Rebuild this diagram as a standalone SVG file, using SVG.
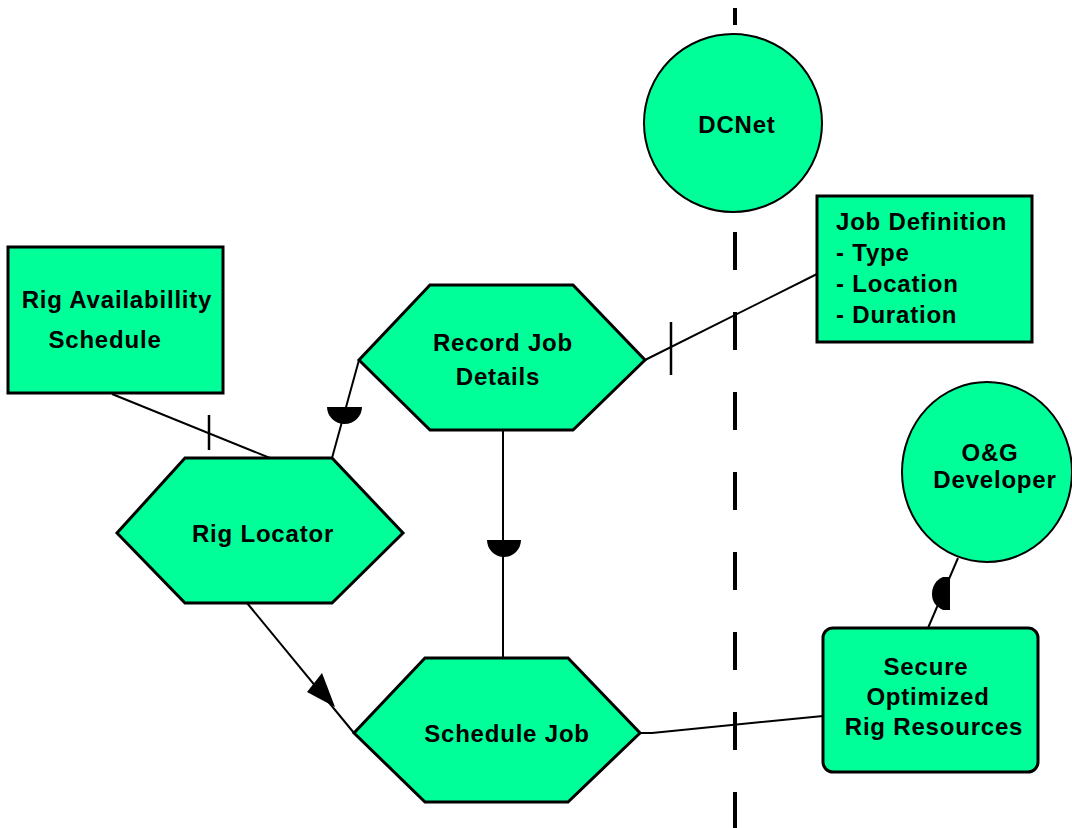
<svg xmlns="http://www.w3.org/2000/svg" width="1072" height="828" viewBox="0 0 1072 828">
<style>
.n{fill:#00FF99;stroke:#000;stroke-width:3}
.c{fill:#00FF99;stroke:#000;stroke-width:2}
.t{font-family:"Liberation Sans",Arial,sans-serif;font-size:24px;font-weight:bold;letter-spacing:0.8px;fill:#000}
.m{text-anchor:middle}
.l{fill:none;stroke:#000;stroke-width:2}
.k{fill:none;stroke:#000;stroke-width:2.5}
.f{fill:#000;stroke:none}
</style>
<rect width="1072" height="828" fill="#fff"/>
<g id="boundary">
<line x1="735" y1="8" x2="735" y2="25" stroke="#000" stroke-width="4"/>
<line x1="735" y1="232" x2="735" y2="828" stroke="#000" stroke-width="4" stroke-dasharray="38 42"/>
</g>
<g id="connectors">
<line class="l" x1="112" y1="394" x2="270" y2="458"/>
<line class="k" x1="209" y1="415" x2="209" y2="450"/>
<line class="l" x1="359" y1="360" x2="332" y2="458"/>
<path class="f" d="M327,407 L362,407 A17.5,17 0 0 1 327,407 Z"/>
<line class="l" x1="503" y1="430" x2="503" y2="658"/>
<path class="f" d="M487,540 L521,540 A17,17 0 0 1 487,540 Z"/>
<line class="l" x1="247" y1="603" x2="354" y2="733"/>
<path class="f" d="M322,673 L335,707 L307,692 Z"/>
<line class="l" x1="645" y1="360" x2="817" y2="274"/>
<line class="k" x1="671" y1="322" x2="671" y2="375"/>
<polyline class="l" points="640,733 652,733 823,716"/>
<line class="l" x1="928" y1="628" x2="958" y2="558"/>
<path class="f" d="M950,577 L950,610 L943,610 C935,606 932,601 932,594 C932,586 936,580 943,577 Z"/>
</g>
<g id="dcnet">
<circle class="c" cx="733" cy="123" r="89"/>
<text class="t m" x="737" y="133">DCNet</text>
</g>
<g id="job-definition">
<rect class="n" x="817" y="196" width="215" height="146"/>
<text class="t" x="836" y="230">Job Definition</text>
<text class="t" x="836" y="261">- Type</text>
<text class="t" x="836" y="292">- Location</text>
<text class="t" x="836" y="323">- Duration</text>
</g>
<g id="rig-availability">
<rect class="n" x="8" y="247" width="215" height="146"/>
<text class="t m" x="117" y="308">Rig Availabillity</text>
<text class="t m" x="105" y="348">Schedule</text>
</g>
<g id="record-job">
<polygon class="n" points="430,285 573,285 645,360 573,430 430,430 359,360"/>
<text class="t m" x="503" y="351">Record Job</text>
<text class="t m" x="498" y="385">Details</text>
</g>
<g id="rig-locator">
<polygon class="n" points="185,458 332,458 403,533 332,603 185,603 117,533"/>
<text class="t m" x="263" y="542">Rig Locator</text>
</g>
<g id="schedule-job">
<polygon class="n" points="425,658 568,658 640,733 568,802 425,802 354,733"/>
<text class="t m" x="507" y="742">Schedule Job</text>
</g>
<g id="og-developer">
<ellipse class="c" cx="987" cy="472" rx="85" ry="90"/>
<text class="t m" x="990" y="461">O&amp;G</text>
<text class="t m" x="995" y="488">Developer</text>
</g>
<g id="secure">
<rect class="n" x="823" y="628" width="215" height="144" rx="10"/>
<text class="t m" x="926" y="675">Secure</text>
<text class="t m" x="928" y="705">Optimized</text>
<text class="t m" x="934" y="735">Rig Resources</text>
</g>
</svg>
